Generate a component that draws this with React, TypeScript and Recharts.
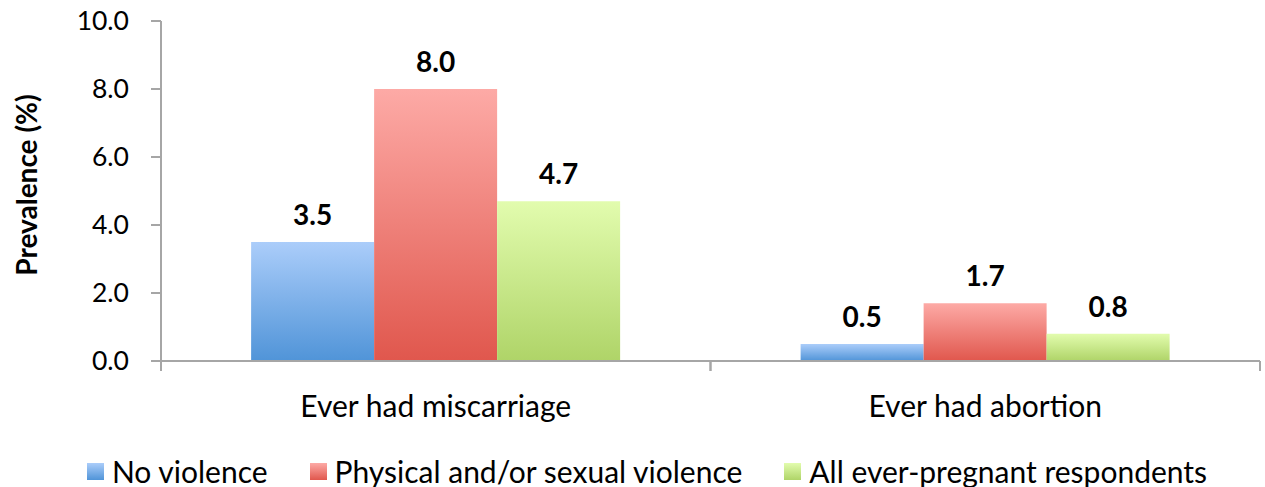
import { BarChart, Bar, XAxis, YAxis, Legend, LabelList } from "recharts";

const categories = ["Ever had miscarriage", "Ever had abortion"];
const noViolence = [3.5, 0.5];
const physicalSexual = [8.0, 1.7];
const allPregnant = [4.7, 0.8];
const yTicks = [0, 2, 4, 6, 8, 10];

const series = [
  { key: "none", name: "No violence", values: noViolence, top: "#abcdfa", bottom: "#5094d8" },
  { key: "phys", name: "Physical and/or sexual violence", values: physicalSexual, top: "#fdaaa6", bottom: "#e0574d" },
  { key: "all", name: "All ever-pregnant respondents", values: allPregnant, top: "#e2fcae", bottom: "#afd468" },
];

const data = categories.map((c, i) => {
  const row: Record<string, string | number> = { category: c };
  series.forEach((s) => (row[s.key] = s.values[i]));
  return row;
});

const FONT = "Lato, 'Open Sans', sans-serif";
const AXIS = "#a6a6a6";

function CategoryTick(props: any) {
  const { x, y, payload } = props;
  const half = payload.offset || 0;
  return (
    <g>
      <line x1={x - half} x2={x - half} y1={y - 8} y2={y + 2} stroke={AXIS} strokeWidth={2} />
      <line x1={x + half} x2={x + half} y1={y - 8} y2={y + 2} stroke={AXIS} strokeWidth={2} />
      <text x={x} y={y + 48} textAnchor="middle" fontSize={30} fontFamily={FONT} fill="#000">
        {payload.value}
      </text>
    </g>
  );
}

function LegendContent() {
  return (
    <div
      style={{
        display: "flex",
        justifyContent: "center",
        fontFamily: FONT,
        fontSize: 30,
        lineHeight: "32px",
        paddingTop: 14,
        paddingLeft: 34,
      }}
    >
      {series.map((s) => (
        <div key={s.key} style={{ display: "flex", alignItems: "center", margin: "0 21px" }}>
          <div
            style={{
              width: 17,
              height: 17,
              marginRight: 8,
              background: `linear-gradient(${s.top}, ${s.bottom})`,
            }}
          />
          <span>{s.name}</span>
        </div>
      ))}
    </div>
  );
}

export default function App() {
  return (
    <div style={{ position: "absolute", left: 0, top: 0, background: "#fff" }}>
      <BarChart
        width={1265}
        height={487}
        data={data}
        margin={{ top: 21, right: 5, left: 0, bottom: 0 }}
        barCategoryGap="16.4%"
        barGap={0}
      >
        <defs>
          {series.map((s) => (
            <linearGradient key={s.key} id={`g-${s.key}`} x1="0" y1="0" x2="0" y2="1">
              <stop offset="0%" stopColor={s.top} />
              <stop offset="100%" stopColor={s.bottom} />
            </linearGradient>
          ))}
        </defs>
        <XAxis
          dataKey="category"
          height={80}
          axisLine={{ stroke: AXIS, strokeWidth: 2 }}
          tickLine={false}
          tick={<CategoryTick />}
          interval={0}
        />
        <YAxis
          width={161}
          domain={[0, 10]}
          ticks={yTicks}
          tickFormatter={(v: number) => v.toFixed(1)}
          axisLine={{ stroke: AXIS, strokeWidth: 2 }}
          tickLine={{ stroke: AXIS, strokeWidth: 2 }}
          tickSize={10}
          tickMargin={22}
          tick={{ fontSize: 26.5, fontFamily: FONT, fill: "#000" }}
          label={{
            value: "Prevalence (%)",
            angle: -90,
            position: "insideLeft",
            dx: 22,
            dy: -6,
            style: { fontSize: 28, fontWeight: 700, fontFamily: FONT, fill: "#000", textAnchor: "middle" },
          }}
        />
        <Legend verticalAlign="bottom" height={46} content={<LegendContent />} />
        {series.map((s) => (
          <Bar key={s.key} dataKey={s.key} name={s.name} fill={`url(#g-${s.key})`} isAnimationActive={false}>
            <LabelList
              dataKey={s.key}
              position="top"
              offset={17}
              formatter={(v: number) => v.toFixed(1)}
              style={{ fontSize: 28, fontWeight: 700, fontFamily: FONT, fill: "#000" }}
            />
          </Bar>
        ))}
      </BarChart>
    </div>
  );
}
